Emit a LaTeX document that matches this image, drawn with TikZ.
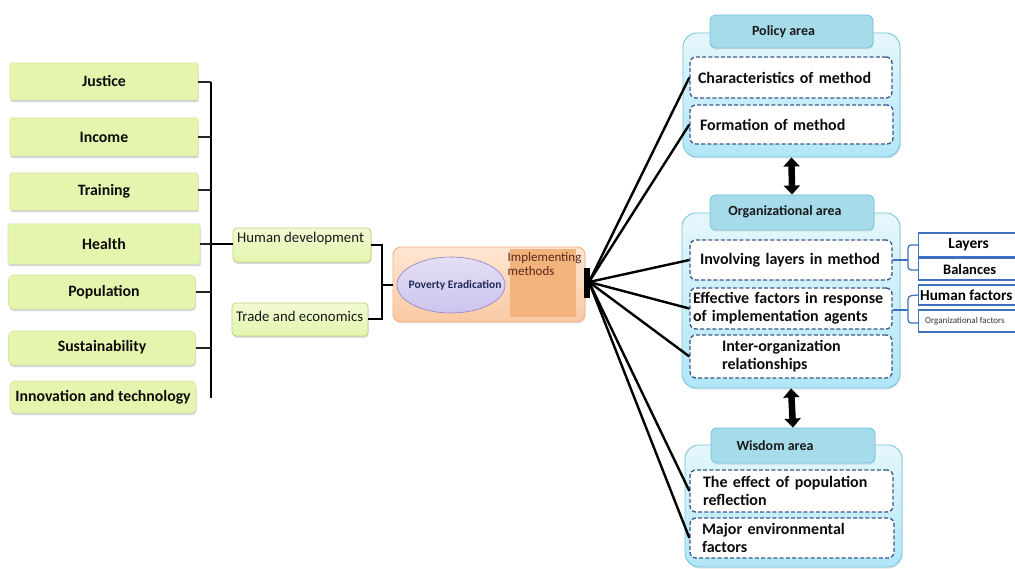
\documentclass[tikz,border=0pt]{standalone}
\usepackage{fontspec}
\setmainfont{Carlito}
\usetikzlibrary{arrows.meta,shadows,calc,shapes.geometric}
\definecolor{gfill}{HTML}{E5F5AE}
\definecolor{gdraw}{HTML}{D3E8A0}
\definecolor{hdraw}{HTML}{B9D77A}
\definecolor{cyanD}{HTML}{76C6DF}
\definecolor{cyanT}{HTML}{E6F7FC}
\definecolor{cyanBo}{HTML}{B0E6F8}
\definecolor{tabfill}{HTML}{A6DCEA}
\definecolor{dashc}{HTML}{3A5A8C}
\definecolor{rblue}{HTML}{3D6FC3}
\definecolor{orT}{HTML}{FDE6D2}
\definecolor{orB}{HTML}{FAC9A2}
\definecolor{orD}{HTML}{F3B283}
\definecolor{orIn}{HTML}{F3B37D}
\definecolor{lavF}{HTML}{CDC4EC}
\definecolor{lavD}{HTML}{8E7FCB}
\definecolor{navyT}{HTML}{1E2A58}
\definecolor{brownT}{HTML}{5A261C}
\begin{document}
\begin{tikzpicture}[x=1pt,y=-1pt,
  gbox/.style={draw=gdraw, fill=gfill, line width=0.6pt, inner sep=0pt,
    font=\bfseries\fontsize{15.8}{18}\selectfont, text=black!95,
    drop shadow={shadow xshift=0.6pt, shadow yshift=-2.2pt, opacity=0.3, fill=black!55}},
  hbox/.style={draw=hdraw, top color=gfill!55!white, bottom color=gfill, line width=0.8pt,
    rounded corners=4pt, inner sep=0pt,
    drop shadow={shadow xshift=0.6pt, shadow yshift=-1.8pt, opacity=0.25, fill=black!55}},
  htext/.style={font=\fontsize{14.8}{17}\selectfont, text=black!90, inner sep=0pt, anchor=west},
  tick/.style={line width=1.1pt, black!85},
  bar/.style={line width=2.6pt, black},
  group/.style={draw=cyanD, top color=cyanT, bottom color=cyanBo, line width=0.9pt,
    rounded corners=14pt, inner sep=0pt,
    drop shadow={shadow xshift=0.8pt, shadow yshift=-1.5pt, opacity=0.2, fill=black!50}},
  tab/.style={draw=cyanD, fill=tabfill, line width=0.9pt, rounded corners=6pt, inner sep=0pt,
    font=\bfseries\fontsize{14}{16}\selectfont, text=black!90,
    drop shadow={shadow xshift=0.6pt, shadow yshift=-1.5pt, opacity=0.2, fill=black!50}},
  dbox/.style={draw=dashc, fill=white, line width=1.3pt, dash pattern=on 4pt off 2.2pt,
    rounded corners=6pt, inner ysep=0pt, align=left,
    font=\bfseries\fontsize{16}{18}\selectfont, text=black!95},
  rbox/.style={draw=rblue, fill=white, line width=1.3pt, inner sep=0pt,
    minimum width=122, anchor=west},
  bline/.style={draw=rblue, line width=1.2pt, rounded corners=3pt},
  fan/.style={line width=2.4pt, black},
  dbl/.style={line width=6.5pt, black,
    {Triangle[length=9pt,width=16pt]}-{Triangle[length=9pt,width=16pt]}}
]
\useasboundingbox (0,0) rectangle (1015,569);
\clip (0,0) rectangle (1015,569);
\fill[white] (0,0) rectangle (1015,569);

% ---------- left green boxes ----------
\node[gbox, rounded corners=1.5pt, minimum width=188, minimum height=37] (justice) at (104,81.5) {Justice};
\node[gbox, rounded corners=1.5pt, minimum width=188, minimum height=38] (income) at (104,137) {Income};
\node[gbox, rounded corners=1.5pt, minimum width=188, minimum height=37] (training) at (104,191.5) {\raisebox{2pt}{Training}};
\node[gbox, rounded corners=1pt, minimum width=192, minimum height=40] (health) at (104,244) {Health};
\node[gbox, rounded corners=5pt, minimum width=187, minimum height=34] (population) at (102,292) {\raisebox{1pt}{\hspace*{4pt}Population}};
\node[gbox, rounded corners=5pt, minimum width=187, minimum height=34] (sustain) at (102,348) {\raisebox{4pt}{Sustainability}};
\node[gbox, rounded corners=5pt, minimum width=186, minimum height=32] (innov) at (103,397) {Innovation and technology};

\coordinate (bartop) at (211,82);
\coordinate (barbot) at (211,398);
\draw[bar] (bartop) -- (barbot);
\draw[tick] (justice.east |- 0,82) -- (211,82);
\draw[tick] (income.east) -- (income.east -| bartop);
\draw[tick] (training.east |- 0,190) -- (211,190);
\draw[tick] (health.east) -- (health.east -| bartop);
\draw[tick] (population.east) -- (population.east -| bartop);
\draw[tick] (sustain.east) -- (sustain.east -| bartop);

% ---------- middle boxes ----------
\node[hbox, minimum width=138, minimum height=34] (humdev) at (302,245) {};
\node[htext] (humdevt) at (237,238.5) {Human development};
\node[hbox, minimum width=136, minimum height=33] (trade) at (300,319.5) {};
\node[htext] (tradet) at (236,316.5) {Trade and economics};

\draw[line width=2pt] (211,244) -- (humdev.west |- 0,244);
\coordinate (brk) at (382,285);
\draw[line width=2.6pt] (humdev.east |- 0,245) -- (382,245) -- (382,319) -- (trade.east |- 0,319);

% ---------- poverty eradication box ----------
\node[draw=orD, top color=orT, bottom color=orB, line width=0.9pt, rounded corners=8pt,
  minimum width=192, minimum height=75, inner sep=0pt,
  drop shadow={shadow xshift=0.6pt, shadow yshift=-1.5pt, opacity=0.2, fill=black!50}] (pov) at (489,284.5) {};
\fill[orIn] (510,249) rectangle (576,317);
\node[anchor=north west, align=left, inner sep=0pt, text=brownT,
  font=\fontsize{13}{14}\selectfont] (impl) at (507.5,252) {Implementing\\methods};
\node[ellipse, draw=lavD, line width=0.6pt, top color=lavF!55!white, bottom color=lavF,
  minimum width=108, minimum height=56, inner sep=0pt] (erad) at (451,285) {};
\node[text=navyT, inner sep=0pt, font=\bfseries\fontsize{11.5}{13}\selectfont] (eradt) at (455,285) {Poverty Eradication};
\draw[line width=2.6pt] (brk) -- (pov.west |- brk);

% junction
\fill[black] (584,268) rectangle (590,298);
\coordinate (jn) at (589,282);

% ---------- policy area ----------
\node[group, minimum width=217, minimum height=124] (policy) at (791.5,95) {};
\node[tab, minimum width=163, minimum height=33] (policytab) at (791.5,31.5) {\hspace*{-16pt}Policy area};
\node[dbox, minimum width=202, minimum height=41, text width=186, inner xsep=0pt] (char) at (791,77.5) {Characteristics of method};
\node[dbox, minimum width=203, minimum height=39, text width=183, inner xsep=0pt] (form) at (791.5,124.5) {Formation of method};

% ---------- organizational area ----------
\node[group, minimum width=218, minimum height=175] (org) at (791,300.5) {};
\node[tab, minimum width=164, minimum height=35] (orgtab) at (792,212.5) {\raisebox{3pt}{\hspace*{-14pt}Organizational area}};
\node[dbox, minimum width=202, minimum height=40, text width=182, inner xsep=0pt] (invol) at (791,260) {Involving layers in method};
\node[dbox, minimum width=202, minimum height=41, text width=196, inner xsep=0pt] (effect) at (791,308.5) {Effective factors in response\\of implementation agents};
\node[dbox, minimum width=202, minimum height=43, text width=138, inner xsep=0pt] (inter) at (791,356.5) {Inter-organization\\relationships};

% ---------- wisdom area ----------
\node[group, minimum width=217, minimum height=122] (wisdom) at (793.5,506) {};
\node[tab, minimum width=164, minimum height=35] (wisdomtab) at (793,445.5) {\hspace*{-36pt}Wisdom area};
\node[dbox, minimum width=203, minimum height=42, text width=177, inner xsep=0pt] (effpop) at (791.5,491) {The effect of population\\reflection};
\node[dbox, minimum width=204, minimum height=40, text width=180, inner xsep=0pt] (major) at (792,538) {Major environmental\\factors};

% double arrows
\draw[dbl] (policy.south) -- (orgtab.north);
\draw[dbl] (org.south) -- (wisdomtab.north);

% fan lines
\foreach \t in {char,form,invol,effect,inter,effpop,major}
  \draw[fan] (jn) -- (\t.west);

% ---------- right boxes ----------
\node[rbox, minimum height=24] (layers) at (918,245) {\hspace*{-22pt}\bfseries\fontsize{15.5}{17}\selectfont Layers};
\node[rbox, minimum height=22] (balances) at (918,269) {\hspace*{-20pt}\bfseries\fontsize{14.5}{16}\selectfont Balances};
\node[rbox, minimum height=20] (humanf) at (918,295) {};
\node[anchor=west, inner sep=0pt, font=\bfseries\fontsize{15.2}{17}\selectfont] (humanft) at (920,295.5) {Human factors};
\node[rbox, minimum height=22] (orgf) at (918,321) {};
\node[anchor=west, inner sep=0pt, text=black!80, font=\fontsize{9}{10}\selectfont] (orgft) at (925,321.5) {Organizational factors};

\draw[bline] (invol.east) -- (908,260);
\draw[bline] (layers.west) -- (908,245) -- (908,270) -- (918,270);
\draw[bline] (effect.east |- 0,310) -- (908,310);
\draw[bline] (humanf.west) -- (908,296) -- (908,323) -- (918,323);
\end{tikzpicture}
\end{document}
